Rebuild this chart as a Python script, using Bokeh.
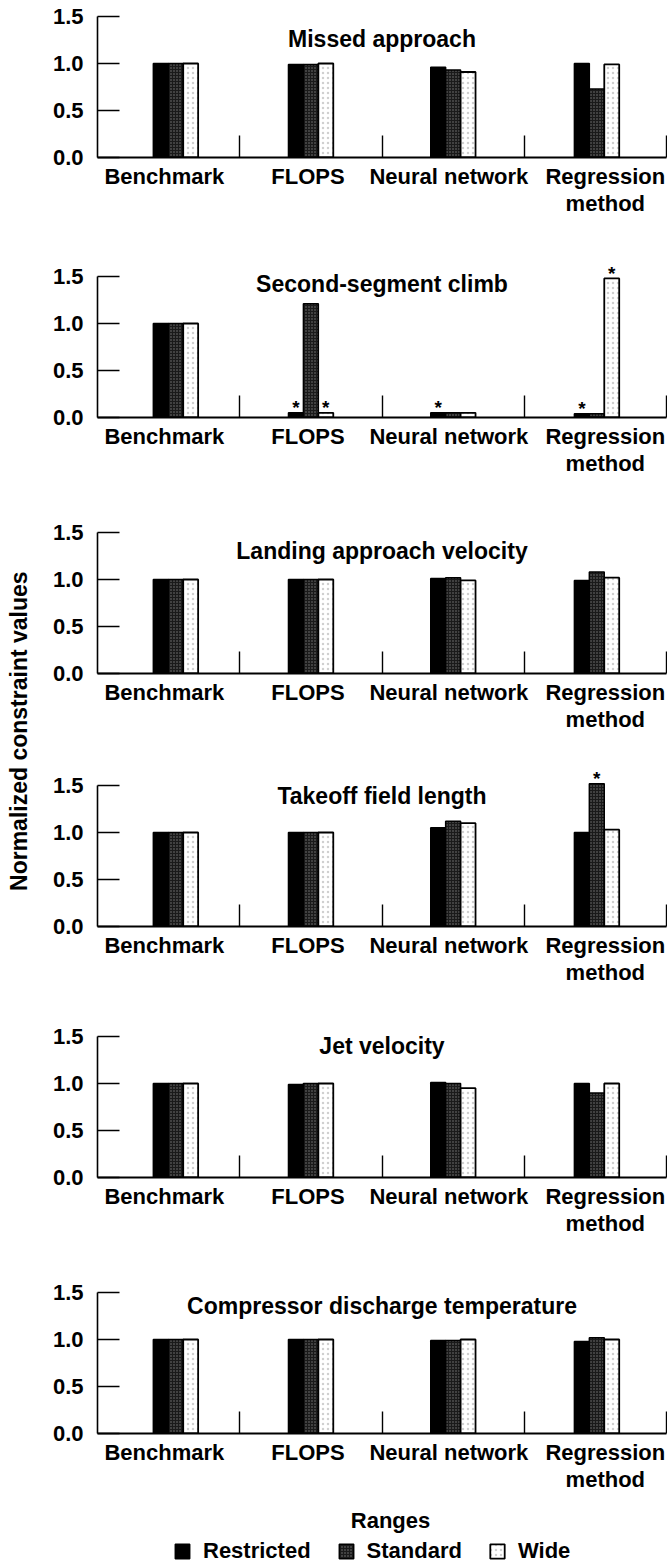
import numpy as np
from bokeh.plotting import figure
from bokeh.layouts import column, row
from bokeh.models import (FixedTicker, ColumnDataSource, Legend, LegendItem, Range1d,
                          NumeralTickFormatter)
from bokeh.core.properties import value
from bokeh.embed import file_html
from bokeh.resources import INLINE

# ---------------- data ----------------
categories = ["Benchmark", "FLOPS", "Neural network", "Regression method"]
category_labels = ["Benchmark", "FLOPS", "Neural network", "Regression\nmethod"]
range_names = ["Restricted", "Standard", "Wide"]
y_ticks = [0.0, 0.5, 1.0, 1.5]
y_axis_title = "Normalized constraint values"
legend_title = "Ranges"

panel_titles = ["Missed approach", "Second-segment climb", "Landing approach velocity",
                "Takeoff field length", "Jet velocity", "Compressor discharge temperature"]

missed_restricted = [1.00, 0.99, 0.96, 1.00]
missed_standard = [1.00, 0.99, 0.93, 0.73]
missed_wide = [1.00, 1.00, 0.91, 0.99]

climb_restricted = [1.00, 0.05, 0.05, 0.04]
climb_standard = [1.00, 1.21, 0.05, 0.04]
climb_wide = [1.00, 0.05, 0.05, 1.48]

landing_restricted = [1.00, 1.00, 1.01, 0.99]
landing_standard = [1.00, 1.00, 1.02, 1.08]
landing_wide = [1.00, 1.00, 0.99, 1.02]

takeoff_restricted = [1.00, 1.00, 1.05, 1.00]
takeoff_standard = [1.00, 1.00, 1.12, 1.52]
takeoff_wide = [1.00, 1.00, 1.10, 1.03]

jet_restricted = [1.00, 0.99, 1.01, 1.00]
jet_standard = [1.00, 1.00, 1.00, 0.90]
jet_wide = [1.00, 1.00, 0.95, 1.00]

cdt_restricted = [1.00, 1.00, 0.99, 0.98]
cdt_standard = [1.00, 1.00, 0.99, 1.02]
cdt_wide = [1.00, 1.00, 1.00, 1.00]

# asterisk flags (1 = marked with *)
climb_star_restricted = [0, 1, 1, 1]
climb_star_standard = [0, 0, 0, 0]
climb_star_wide = [0, 1, 0, 1]
takeoff_star_restricted = [0, 0, 0, 0]
takeoff_star_standard = [0, 0, 0, 1]
takeoff_star_wide = [0, 0, 0, 0]
no_star = [0, 0, 0, 0]

panels = [
    (panel_titles[0], [missed_restricted, missed_standard, missed_wide], [no_star, no_star, no_star]),
    (panel_titles[1], [climb_restricted, climb_standard, climb_wide],
     [climb_star_restricted, climb_star_standard, climb_star_wide]),
    (panel_titles[2], [landing_restricted, landing_standard, landing_wide], [no_star, no_star, no_star]),
    (panel_titles[3], [takeoff_restricted, takeoff_standard, takeoff_wide],
     [takeoff_star_restricted, takeoff_star_standard, takeoff_star_wide]),
    (panel_titles[4], [jet_restricted, jet_standard, jet_wide], [no_star, no_star, no_star]),
    (panel_titles[5], [cdt_restricted, cdt_standard, cdt_wide], [no_star, no_star, no_star]),
]

# ---------------- layout / style ----------------
FONT = "Liberation Sans"
FS = "22px"
TITLE_FS = "23px"
Y_MAX = 1.66
BAR_W = 0.105
group_shift = [0.05, 0.0, 0.0, 0.01]
label_shift = [-0.03, -0.02, -0.03, 0.07]
title_y = [1.26, 1.42, 1.30, 1.39, 1.40, 1.36]
fig_heights = [260, 256, 253, 251, 256, 224]
frame_h = 156
PANEL_W = 627
LEFT_W = 40

styles = [
    dict(fill_color="#000000", line_color="#000000", line_width=1.5),
    dict(fill_color="#1a1a1a", line_color="#000000", line_width=1.5,
         hatch_pattern="dot", hatch_color="#7a7a7a", hatch_scale=3, hatch_weight=1),
    dict(fill_color="#ffffff", line_color="#000000", line_width=1.8,
         hatch_pattern="dot", hatch_color="#d0d0d0", hatch_scale=5, hatch_weight=1),
]


def make_panel(idx, title, vals, stars):
    h = fig_heights[idx]
    p = figure(width=PANEL_W, height=h, x_range=Range1d(0, 4), y_range=Range1d(0, Y_MAX),
               output_backend="svg", toolbar_location=None, title=None,
               min_border_left=57, min_border_right=1, min_border_top=1,
               min_border_bottom=h - 1 - frame_h)
    p.grid.visible = False
    p.outline_line_color = None
    p.background_fill_color = None
    p.border_fill_color = "white"

    for j in range(3):
        xs = [i + 0.5 + group_shift[i] + (j - 1) * BAR_W for i in range(len(categories))]
        src = ColumnDataSource(dict(x=xs, top=vals[j]))
        p.vbar(x="x", top="top", bottom=0, width=BAR_W, source=src, **styles[j])
        sx = [x for x, s in zip(xs, stars[j]) if s]
        sy = [v for v, s in zip(vals[j], stars[j]) if s]
        if sx:
            p.text(x=sx, y=sy, text=["*"] * len(sx), text_align="center",
                   text_baseline="middle", y_offset=-5,
                   text_font=value(FONT), text_font_style="bold",
                   text_font_size="19px", text_color="black")

    p.text(x=[2.0], y=[title_y[idx]], text=[title], text_align="center",
           text_baseline="middle", text_font=value(FONT), text_font_style="bold",
           text_font_size=TITLE_FS, text_color="black")

    # y axis
    ya = p.yaxis[0]
    ya.ticker = FixedTicker(ticks=y_ticks, minor_ticks=[])
    ya.formatter = NumeralTickFormatter(format="0.0")
    ya.bounds = (0, 1.5)
    ya.major_tick_in = 22
    ya.major_tick_out = 0
    ya.minor_tick_in = 0
    ya.minor_tick_out = 0
    ya.axis_line_width = 1.6
    ya.major_tick_line_width = 1.6
    ya.major_label_standoff = 14
    ya.major_label_text_font = FONT
    ya.major_label_text_font_style = "bold"
    ya.major_label_text_font_size = FS
    ya.major_label_text_color = "black"

    # x axis
    label_pos = [i + 0.5 + label_shift[i] for i in range(len(categories))]
    xa = p.xaxis[0]
    xa.ticker = FixedTicker(ticks=label_pos, minor_ticks=[1, 2, 3, 4])
    xa.major_label_overrides = {pos: lab for pos, lab in zip(label_pos, category_labels)}
    xa.bounds = (0, 4)
    xa.major_tick_in = 0
    xa.major_tick_out = 0
    xa.minor_tick_in = 22
    xa.minor_tick_out = 0
    xa.minor_tick_line_width = 1.4
    xa.minor_tick_line_color = "black"
    xa.axis_line_width = 2
    xa.major_label_standoff = 6
    xa.major_label_text_font = FONT
    xa.major_label_text_font_style = "bold"
    xa.major_label_text_font_size = FS
    xa.major_label_text_color = "black"
    xa.major_label_text_line_height = 1.1
    return p


panel_figs = [make_panel(i, t, v, s) for i, (t, v, s) in enumerate(panels)]

# legend figure: tiny proxy swatch renderers lie underneath the legend's own
# opaque background, so only the legend swatches are seen
lf = figure(width=PANEL_W, height=68, x_range=Range1d(0, 1), y_range=Range1d(0, 1),
            output_backend="svg", toolbar_location=None, title=None,
            min_border=0, min_border_left=0, min_border_right=0,
            min_border_top=0, min_border_bottom=0)
lf.axis.visible = False
lf.grid.visible = False
lf.outline_line_color = None
items = []
for j, name in enumerate(range_names):
    proxy = ColumnDataSource(dict(x=[0.6], top=[0.25]))
    r = lf.vbar(x="x", top="top", bottom=0.15, width=0.008, source=proxy, **styles[j])
    items.append(LegendItem(label=name, renderers=[r]))
lf.text(x=[0.515], y=[0.70], text=[legend_title], text_align="center",
        text_baseline="middle", text_font=value(FONT), text_font_style="bold",
        text_font_size=FS, text_color="black")
leg = Legend(items=items, orientation="horizontal", location=(76, 4),
             padding=0, margin=0, spacing=26, label_standoff=12,
             glyph_width=18, glyph_height=18,
             label_text_font=FONT, label_text_font_style="bold",
             label_text_font_size=FS, label_text_color="black",
             border_line_color=None, background_fill_color="white",
             background_fill_alpha=1.0)
lf.add_layout(leg)

# left y-axis title figure
left = figure(width=LEFT_W, height=sum(fig_heights) + 68, x_range=Range1d(0, 1),
              y_range=Range1d(0, 1), output_backend="svg", toolbar_location=None,
              title=None, min_border=0, min_border_left=0, min_border_right=0,
              min_border_top=0, min_border_bottom=0)
left.axis.visible = False
left.grid.visible = False
left.outline_line_color = None
left.text(x=[0.45], y=[0.534], text=[y_axis_title], angle=np.pi / 2,
          text_align="center", text_baseline="middle", text_font=value(FONT),
          text_font_style="bold", text_font_size="23px", text_color="black")

layout = row(left, column(*panel_figs, lf))
open("out.html", "w").write(file_html(layout, INLINE))
